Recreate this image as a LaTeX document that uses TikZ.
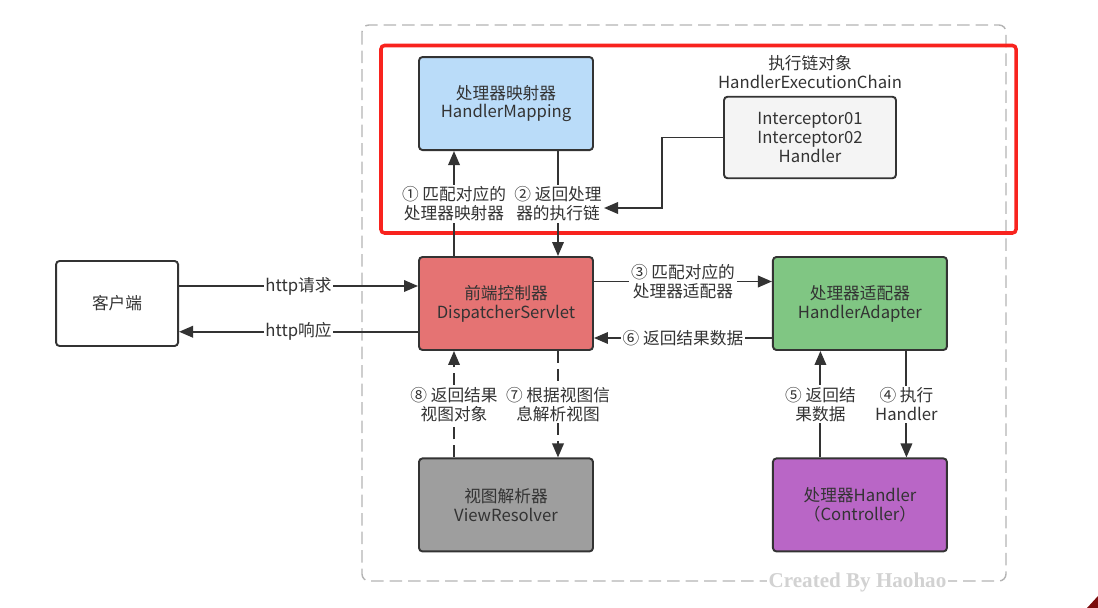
\documentclass[tikz,border=0pt]{standalone}
\usepackage{fontspec}
\setmainfont{Noto Sans CJK SC}
\newfontfamily\markfont{Liberation Serif}
\usetikzlibrary{arrows.meta,positioning}
\definecolor{inkgray}{HTML}{333333}
\definecolor{mapblue}{HTML}{BADCF9}
\definecolor{chaingray}{HTML}{F4F4F4}
\definecolor{dispred}{HTML}{E57373}
\definecolor{adaptgreen}{HTML}{80C683}
\definecolor{viewgray}{HTML}{9E9E9E}
\definecolor{handpurple}{HTML}{B966C6}
\definecolor{framered}{HTML}{F8231E}
\definecolor{edgegray}{HTML}{B4B4B4}
\definecolor{cornerred}{HTML}{7B0C0C}

\begin{document}
\begin{tikzpicture}[
    node distance=2.1cm and 3.56cm,
    block/.style={rectangle, draw=inkgray, line width=1.1pt, rounded corners=2pt, minimum width=3.48cm, minimum height=1.86cm, font=\fontsize{9.5}{10.8}\selectfont, text=inkgray, align=center},
    arrow/.style={-{Triangle[length=2.8mm, width=2.3mm]}, line width=1.1pt, draw=inkgray},
    dashflow/.style={arrow, dash pattern=on 2.4mm off 1.2mm},
    note/.style={font=\fontsize{9.5}{10.8}\selectfont, text=inkgray, fill=white, align=center, inner sep=1pt}
]
\useasboundingbox (0,0) rectangle (21.96,-12.16);

% Frames
\draw[edgegray, line width=0.8pt, dash pattern=on 2.5mm off 1.2mm, rounded corners=4pt] (7.24,-0.5) rectangle (20.12,-11.62);
\draw[framered, line width=2pt, rounded corners=2pt] (7.62,-0.91) rectangle (20.32,-4.66);

% Main blocks
\node[block, fill=dispred] (disp) at (10.12,-6.07) {前端控制器\\DispatcherServlet};
\node[block, fill=mapblue, above=of disp] (map) {处理器映射器\\HandlerMapping};
\node[block, fill=adaptgreen, right=of disp] (adapt) {处理器适配器\\HandlerAdapter};
\node[block, fill=viewgray, below=2.13cm of disp] (view) {视图解析器\\ViewResolver};
\node[block, fill=handpurple, below=2.13cm of adapt] (hand) {处理器Handler\\（Controller）};
\node[block, fill=white, minimum width=2.44cm, minimum height=1.7cm, left=4.78cm of disp] (client) {客户端};
\node[block, fill=chaingray, minimum width=3.44cm, minimum height=1.63cm] (chain) at (16.2,-2.75) {Interceptor01\\Interceptor02\\Handler};
\node[note, fill=none, above=0.1cm of chain] (chaintitle) {执行链对象\\HandlerExecutionChain};
\coordinate (chainin) at (12.08,-4.16);

% Arrows
\draw[arrow] ([xshift=-1.04cm]disp.north) -- node[note] {① 匹配对应的\\处理器映射器} ([xshift=-1.04cm]map.south);
\draw[arrow] ([xshift=1.04cm]map.south) -- node[note] {② 返回处理\\器的执行链} ([xshift=1.04cm]disp.north);
\draw[arrow] (chain.west) -- ++(-1.22,0) |- (chainin);
\draw[arrow] ([yshift=0.35cm]client.east) -- node[note] {http请求} ([yshift=0.35cm]disp.west);
\draw[arrow] ([yshift=-0.565cm]disp.west) -- node[note] {http响应} ([yshift=-0.565cm]client.east);
\draw[arrow] ([yshift=0.44cm]disp.east) -- node[note] {③ 匹配对应的\\处理器适配器} ([yshift=0.44cm]adapt.west);
\draw[arrow] ([yshift=-0.69cm]adapt.west) -- node[note] {⑥ 返回结果数据} ([yshift=-0.69cm]disp.east);
\draw[arrow] ([xshift=0.93cm]adapt.south) -- node[note] {④ 执行\\Handler} ([xshift=0.93cm]hand.north);
\draw[arrow] ([xshift=-0.79cm]hand.north) -- node[note] {⑤ 返回结\\果数据} ([xshift=-0.79cm]adapt.south);
\draw[dashflow] ([xshift=1.04cm]disp.south) -- node[note] {⑦ 根据视图信\\息解析视图} ([xshift=1.04cm]view.north);
\draw[dashflow] ([xshift=-1.04cm]view.north) -- node[note] {⑧ 返回结果\\视图对象} ([xshift=-1.04cm]disp.south);

% Watermark
\node[font=\markfont\bfseries\fontsize{12}{12}\selectfont, text=gray!35, fill=white, inner sep=1pt] (mark) at (17.15,-11.64) {Created By Haohao};
\fill[cornerred] (21.74,-12.16) -- (21.96,-12.16) -- (21.96,-11.92) -- cycle;

\end{tikzpicture}
\end{document}
